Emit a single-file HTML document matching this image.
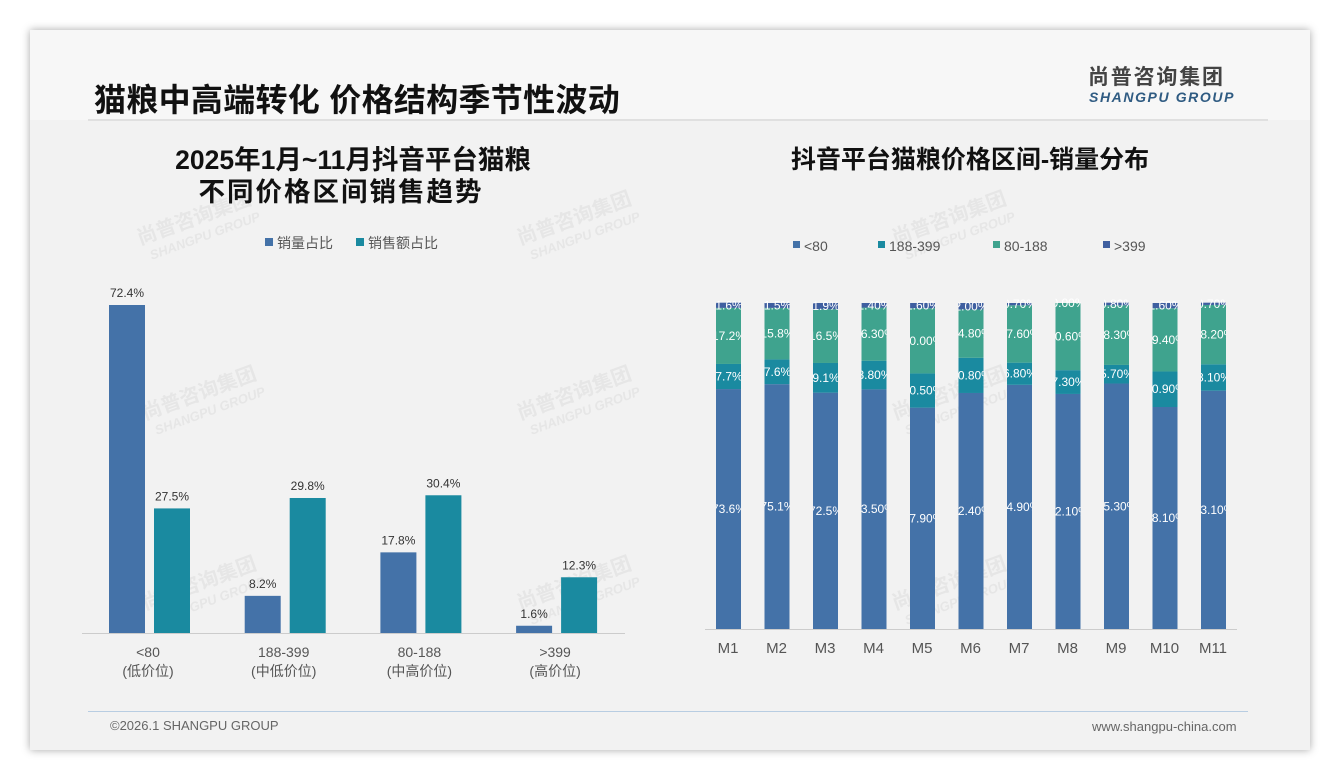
<!DOCTYPE html>
<html><head><meta charset="utf-8">
<style>
body{margin:0;width:1340px;height:780px;background:#fff;font-family:"Liberation Sans","Noto Sans CJK SC",sans-serif;position:relative;overflow:hidden}
#card{position:absolute;left:30px;top:30px;width:1280px;height:720px;background:#f2f2f2;box-shadow:0 0 8px rgba(0,0,0,.35)}
#hdr{position:absolute;left:0;top:0;width:1280px;height:90px;background:#f7f7f7}
.t{position:absolute;white-space:nowrap}
svg text{font-family:"Liberation Sans","Noto Sans CJK SC",sans-serif}
</style></head><body>
<div id="card">
<div id="hdr"></div>
<div class="t" style="left:64px;top:45px;font-size:32px;font-weight:bold;color:#111;letter-spacing:0.3px">猫粮中高端转化 价格结构季节性波动</div>
<div class="t" style="left:1058px;top:31px;font-size:21px;font-weight:bold;color:#444;letter-spacing:1.8px">尚普咨询集团</div>
<div class="t" style="left:1059px;top:59px;font-size:14px;font-weight:bold;font-style:italic;color:#2f5b82;letter-spacing:1.6px">SHANGPU GROUP</div>
<div style="position:absolute;left:58px;top:89px;width:1180px;height:2px;background:#e0e0e0"></div>
<div style="position:absolute;left:58px;top:681px;width:1160px;height:1px;background:#b8cde2"></div>
<div class="t" style="left:80px;top:688px;font-size:13px;color:#666">©2026.1 SHANGPU GROUP</div>
<div class="t" style="left:1062px;top:689px;font-size:13px;color:#666">www.shangpu-china.com</div>
</div>
<svg id="chart" width="1340" height="780" style="position:absolute;left:0;top:0"><defs id="defs"></defs></svg>
<script>
const leftCats=["<80","188-399","80-188",">399"];
const leftSub=["(低价位)","(中低价位)","(中高价位)","(高价位)"];
const volShare=[72.4,8.2,17.8,1.6];
const amtShare=[27.5,29.8,30.4,12.3];
const months=["M1","M2","M3","M4","M5","M6","M7","M8","M9","M10","M11"];
const sLow=[73.6,75.1,72.5,73.5,67.9,72.4,74.9,72.1,75.3,68.1,73.1];
const sMid=[7.7,7.6,9.1,8.8,10.5,10.8,6.8,7.3,5.7,10.9,8.1];
const sMidHigh=[17.2,15.8,16.5,16.3,20.0,14.8,17.6,20.6,18.3,19.4,18.2];
const sHigh=[1.6,1.5,1.9,1.4,1.6,2.0,0.7,0.0,0.8,1.6,0.7];
const stackLabels=[["73.6%","7.7%","17.2%","1.6%"],["75.1%","7.6%","15.8%","1.5%"],["72.5%","9.1%","16.5%","1.9%"],["73.50%","8.80%","16.30%","1.40%"],["67.90%","10.50%","20.00%","1.60%"],["72.40%","10.80%","14.80%","2.00%"],["74.90%","6.80%","17.60%","0.70%"],["72.10%","7.30%","20.60%","0.00%"],["75.30%","5.70%","18.30%","0.80%"],["68.10%","10.90%","19.40%","1.60%"],["73.10%","8.10%","18.20%","0.70%"]];
const NS="http://www.w3.org/2000/svg";
const svg=document.getElementById('chart');
const defs=document.getElementById('defs');
function mk(tag,attrs,txt,parent){const e=document.createElementNS(NS,tag);for(const k in attrs)e.setAttribute(k,attrs[k]);if(txt!==undefined)e.textContent=txt;(parent||svg).appendChild(e);return e;}
[[140,245],[520,245],[895,245],[145,420],[520,420],[895,420],[145,610],[520,610],[895,610]].forEach(p=>{
 let w=mk('text',{x:p[0],y:p[1],'font-size':20,'font-weight':'bold',fill:'#e6e6e6',transform:`rotate(-20 ${p[0]} ${p[1]})`},'尚普咨询集团');
 
 let w2=mk('text',{x:p[0]+6,y:p[1]+18,'font-size':13,'font-weight':'bold','font-style':'italic',fill:'#e6e6e6',transform:`rotate(-20 ${p[0]} ${p[1]})`},'SHANGPU GROUP');
 
});
let t=mk('text',{x:353,y:169,'font-size':26.5,'font-weight':'bold','text-anchor':'middle',fill:'#111'},'2025年1月~11月抖音平台猫粮');

t=mk('text',{x:341,y:201,'font-size':26.5,'font-weight':'bold','text-anchor':'middle',fill:'#111','letter-spacing':'2px'},'不同价格区间销售趋势');

const C1='#4472a8',C2='#1a8aa0',C3='#3fa38e',C4='#3f5fa0';
let lg=mk('rect',{x:265,y:238,width:8,height:8,fill:C1});
lg=mk('text',{x:277,y:248,'font-size':14,fill:'#555'},'销量占比');
lg=mk('rect',{x:356,y:238,width:8,height:8,fill:C2});
lg=mk('text',{x:368,y:248,'font-size':14,fill:'#555'},'销售额占比');
const base=633,pp=328/72.4;
const yL=v=>base-v*pp;
const gx=i=>150+i*135.7;
leftCats.forEach((c,i)=>{
 const cx=gx(i);
 let b=mk('rect',{x:cx-41,y:yL(volShare[i]),width:36,height:volShare[i]*pp,fill:C1});
 
 let l=mk('text',{x:cx-23,y:yL(volShare[i])-8,'font-size':12,'text-anchor':'middle',fill:'#333'},volShare[i].toFixed(1)+'%');
 
 b=mk('rect',{x:cx+4,y:yL(amtShare[i]),width:36,height:amtShare[i]*pp,fill:C2});
 
 l=mk('text',{x:cx+22,y:yL(amtShare[i])-8,'font-size':12,'text-anchor':'middle',fill:'#333'},amtShare[i].toFixed(1)+'%');
 
 l=mk('text',{x:cx-2,y:657,'font-size':14,'text-anchor':'middle',fill:'#555'},c);
 
 l=mk('text',{x:cx-2,y:676,'font-size':14,'text-anchor':'middle',fill:'#555'},leftSub[i]);
 
});
let ax=mk('line',{x1:82,y1:633.5,x2:625,y2:633.5,stroke:'#ccc','stroke-width':1});
t=mk('text',{x:970,y:168,'font-size':25,'font-weight':'bold','text-anchor':'middle',fill:'#111'},'抖音平台猫粮价格区间-销量分布');

const series=[sLow,sMid,sMidHigh,sHigh],cols=[C1,C2,C3,C4],names=['<80','188-399','80-188','>399'];
const lgx=[793,878,993,1103];
names.forEach((n,i)=>{
 let r=mk('rect',{x:lgx[i],y:241,width:7,height:7,fill:cols[i]});
 let tx=mk('text',{x:lgx[i]+11,y:251,'font-size':14,fill:'#555'},n);
});
const rb=629,rt=303,ph=(rb-rt)/100;
const mx=i=>728+i*48.5;
months.forEach((m,i)=>{
 const cp=mk('clipPath',{id:'cp'+i},undefined,defs);
 mk('rect',{x:mx(i)-12,y:rt-5,width:25,height:rb-rt+10},undefined,cp);
 let acc=0;
 series.forEach((s,k)=>{
  const v=s[i];const y=rb-(acc+v)*ph;
  let r=mk('rect',{x:mx(i)-12,y:y,width:25,height:v*ph,fill:cols[k]});
  
  let tx=mk('text',{x:mx(i)+1,y:y+v*ph/2+4,'font-size':12,'text-anchor':'middle',fill:'#fff','clip-path':'url(#cp'+i+')'},stackLabels[i][k]);
  
  acc+=v;
 });
 let l=mk('text',{x:mx(i),y:653,'font-size':15,'text-anchor':'middle',fill:'#555'},m);
 
});
ax=mk('line',{x1:705,y1:629.5,x2:1237,y2:629.5,stroke:'#ccc','stroke-width':1});
</script>
</body></html>
